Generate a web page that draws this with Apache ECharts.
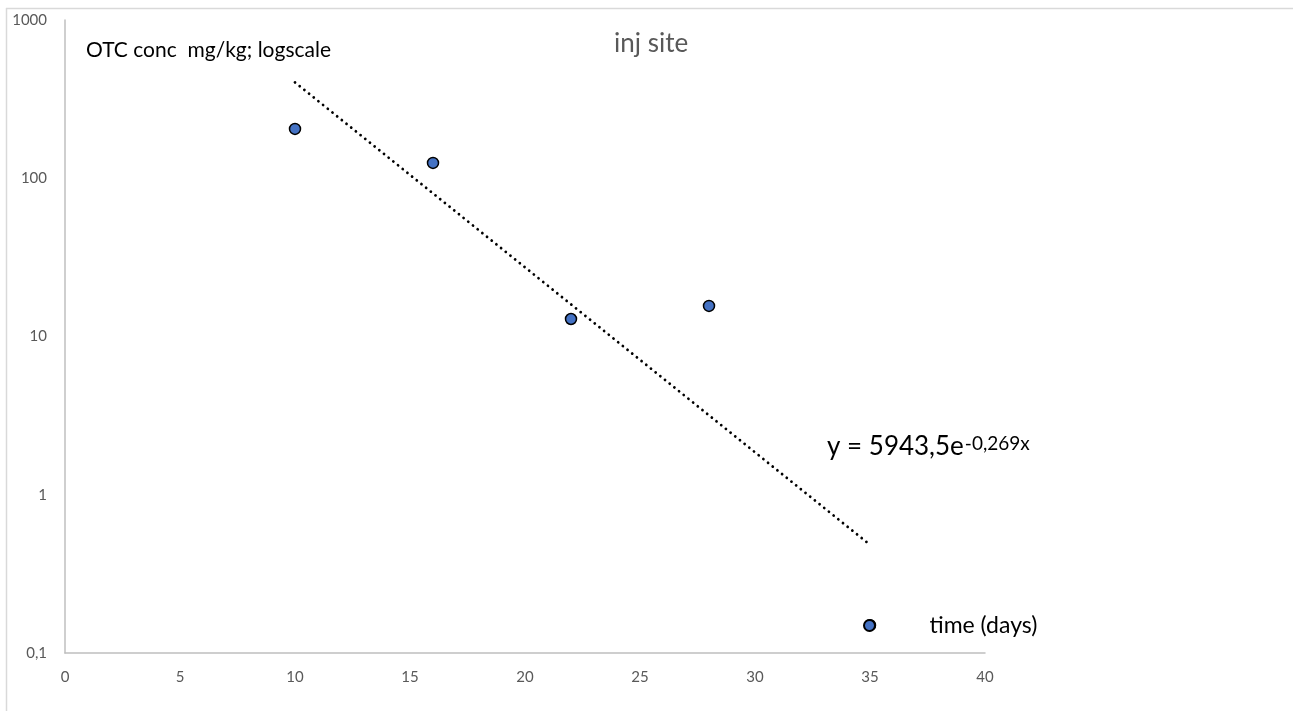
<!DOCTYPE html>
<html><head><meta charset="utf-8">
<script src="https://cdn.jsdelivr.net/npm/echarts@6/dist/echarts.min.js"></script>
<style>html,body{margin:0;padding:0;background:#fff}#c{width:1293px;height:711px}</style>
</head><body><div id="c"></div>
<script>
// data
const seriesName = 'time (days)';
const days = [10, 16, 22, 28, 35];
const conc = [205, 125, 12.9, 15.6, 0.15];
// exponential trendline end points (y = 5943,5e^-0,269x), straight on log scale
const trendDays = [10, 35];
const trendConc = [403.4, 0.483];
const xMin = 0, xMax = 40, xStep = 5;
const yMin = 0.1, yMax = 1000;
const chartTitle = 'inj site';
const yTitle = 'OTC conc  mg/kg; logscale';
const eqMain = 'y = 5943,5e';
const eqSup = '-0,269x';

const FONT = 'Lato';
const chart = echarts.init(document.getElementById('c'), null, {renderer: 'canvas'});
chart.setOption({
  backgroundColor: '#fff',
  animation: false,
  textStyle: {fontFamily: FONT},
  title: [
    {text: chartTitle, left: 609, top: 26, textStyle: {fontFamily: FONT, fontSize: 26, fontWeight: 'normal', color: '#595959'}},
    {text: yTitle, left: 81, top: 35, textStyle: {fontFamily: FONT, fontSize: 21, fontWeight: 'normal', color: '#000'}}
  ],
  legend: {
    data: [seriesName],
    left: 858, top: 609,
    itemWidth: 110, itemHeight: 11,
    textStyle: {fontFamily: FONT, fontSize: 23, color: '#000'}
  },
  grid: {left: 65, top: 20, right: 308, bottom: 58},
  xAxis: {
    type: 'value', min: xMin, max: xMax, interval: xStep,
    axisLine: {lineStyle: {color: '#bfbfbf', width: 1.5}},
    axisTick: {show: false}, splitLine: {show: false},
    axisLabel: {color: '#595959', fontFamily: FONT, fontSize: 15, margin: 17}
  },
  yAxis: {
    type: 'log', logBase: 10, min: yMin, max: yMax,
    axisLine: {show: true, lineStyle: {color: '#bfbfbf', width: 1.5}},
    axisTick: {show: false}, splitLine: {show: false},
    axisLabel: {color: '#595959', fontFamily: FONT, fontSize: 15, margin: 18,
      formatter: v => String(Number(v.toPrecision(6))).replace('.', ',')}
  },
  series: [
    {
      name: 'trend', type: 'line', silent: true, z: 2,
      data: trendDays.map((d, i) => [d, trendConc[i]]),
      showSymbol: false, symbol: 'none',
      lineStyle: {color: '#000', width: 2.8, type: [0.01, 6], cap: 'round'}
    },
    {
      name: seriesName, type: 'scatter', z: 3,
      data: days.map((d, i) => [d, conc[i]]),
      symbol: 'circle', symbolSize: 11,
      itemStyle: {color: '#4472C4', borderColor: '#000', borderWidth: 1.5, opacity: 1}
    }
  ],
  graphic: [
    {type: 'line', shape: {x1: 6, y1: 8.5, x2: 1293, y2: 8.5}, style: {stroke: '#d9d9d9', lineWidth: 1.5}, silent: true},
    {type: 'line', shape: {x1: 6.5, y1: 8, x2: 6.5, y2: 711}, style: {stroke: '#d9d9d9', lineWidth: 1.5}, silent: true},
    {type: 'text', left: 827, top: 434, silent: true,
      style: {
        text: '{a|' + eqMain + '}{b|' + eqSup + '}',
        rich: {
          a: {fontFamily: FONT, fontSize: 26, color: '#595959'},
          b: {fontFamily: FONT, fontSize: 19, color: '#595959', verticalAlign: 'top', padding: [0, 0, 0, 1]}
        }
      }}
  ]
});
</script></body></html>
